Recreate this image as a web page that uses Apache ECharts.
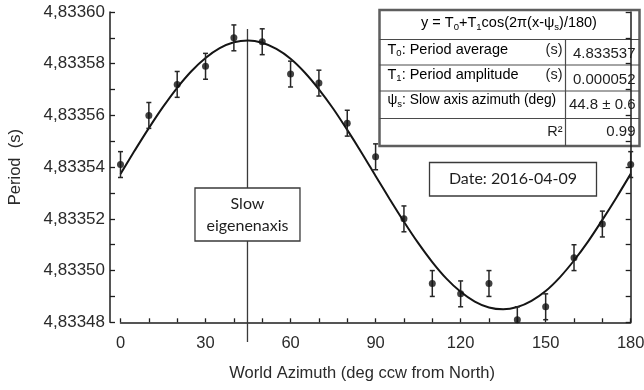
<!DOCTYPE html>
<html>
<head>
<meta charset="utf-8">
<script src="https://cdn.jsdelivr.net/npm/echarts@6/dist/echarts.min.js"></script>
<style>
  html, body { margin: 0; padding: 0; background: #fff; }
  #chart { width: 644px; height: 390px; }
</style>
</head>
<body>
<div id="chart"></div>
<script>
// Measured periods at each world azimuth (deg ccw from North)
const azimuths = [0, 10, 20, 30, 40, 50, 60, 70, 80, 90, 100, 110, 120, 130, 140, 150, 160, 170, 180];
const periods = [4.833541, 4.833560, 4.833572, 4.833579, 4.833590, 4.8335885, 4.833576, 4.8335725, 4.833557,
                 4.833544, 4.833520, 4.833495, 4.833491, 4.833495, 4.833481, 4.833486, 4.833505, 4.833518, 4.833541];
const periodErrors = [0.000005, 0.000005, 0.000005, 0.000005, 0.000005, 0.000005, 0.000005, 0.000005, 0.000005,
                      0.000005, 0.000005, 0.000005, 0.000005, 0.000005, 0.000005, 0.000005, 0.000005, 0.000005, 0.000005];

// Fitted cosine curve, sampled every 5 degrees
const fitAzimuths = [0, 5, 10, 15, 20, 25, 30, 35, 40, 45, 50, 55, 60, 65, 70, 75, 80, 85, 90,
                     95, 100, 105, 110, 115, 120, 125, 130, 135, 140, 145, 150, 155, 160, 165, 170, 175, 180];
const fitPeriods = [4.8335374, 4.8335464, 4.8335551, 4.8335633, 4.8335707, 4.8335771, 4.8335822, 4.8335860,
                    4.8335883, 4.8335890, 4.8335881, 4.8335857, 4.8335819, 4.8335766, 4.8335701, 4.8335627,
                    4.8335544, 4.8335457, 4.8335366, 4.8335276, 4.8335189, 4.8335107, 4.8335033, 4.8334969,
                    4.8334918, 4.8334880, 4.8334857, 4.8334850, 4.8334859, 4.8334883, 4.8334921, 4.8334974,
                    4.8335039, 4.8335113, 4.8335196, 4.8335283, 4.8335374];

// Slow eigenaxis azimuth from the fit
const slowAxisAzimuth = 44.8;

// Axis ticks and labels
const xTickValues = [0, 10, 20, 30, 40, 50, 60, 70, 80, 90, 100, 110, 120, 130, 140, 150, 160, 170, 180];
const xLabelValues = [0, 30, 60, 90, 120, 150, 180];
const yTickValues = [4.83348, 4.83349, 4.83350, 4.83351, 4.83352, 4.83353, 4.83354,
                     4.83355, 4.83356, 4.83357, 4.83358, 4.83359, 4.83360];
const yLabelValues = [4.83348, 4.83350, 4.83352, 4.83354, 4.83356, 4.83358, 4.83360];

// Fit summary table
const tableRowLabels = ['{n|T}{s|0}{n|: Period average}', '{n|T}{s|1}{n|: Period amplitude}',
                        '{c|ψ}{s|s}{c|: Slow axis azimuth (deg)}', ''];
const tableRowUnits = ['(s)', '(s)', '', 'R²'];
const tableRowValues = ['4.833537', '0.000052', '44.8 ± 0.6', '0.99'];
const dateText = 'Date: 2016-04-09';
const slowAxisText = 'Slow\neigenenaxis';

const FONT = "'Liberation Sans', Arial, sans-serif";
const SOFT = "Lato, 'Open Sans', sans-serif";
const INK = '#1e1e1e';

const chart = echarts.init(document.getElementById('chart'), null, { renderer: 'canvas' });

const yFmt = v => v.toFixed(5).replace('.', ',');

function axisY(position, showLabels, extra) {
  return Object.assign({
    type: 'value',
    position: position,
    min: 4.83348,
    max: 4.83360,
    axisLine: { show: true, onZero: false, lineStyle: { color: INK, width: 1.5 } },
    axisTick: { show: true, inside: true, length: 5, customValues: yTickValues,
                lineStyle: { color: INK, width: 1.3 } },
    axisLabel: { show: showLabels, customValues: yLabelValues, formatter: yFmt,
                 fontFamily: FONT, fontSize: 17, color: '#2a2a2a', margin: 5 },
    splitLine: { show: false }
  }, extra || {});
}

// Rows of the fit table, relative to the table origin
const rowTops = [29.5, 55, 81, 108.5];
const rowLabelY = [39.5, 64.5, 90.5, 122];
const rowValueY = [44, 69.5, 95, 122];
const richCells = {
  n: { fontFamily: FONT, fontSize: 14.5, color: INK, lineHeight: 18, verticalAlign: 'middle' },
  c: { fontFamily: FONT, fontSize: 13.8, color: INK, lineHeight: 18, verticalAlign: 'middle' },
  s: { fontFamily: FONT, fontSize: 9.5, color: INK, verticalAlign: 'bottom' }
};
const tableChildren = [
  { type: 'rect', shape: { x: 0, y: 0, width: 260, height: 136 },
    style: { fill: '#fff', stroke: '#5e5e5e', lineWidth: 2.5 } },
  { type: 'line', shape: { x1: 186, y1: 29.5, x2: 186, y2: 136 },
    style: { stroke: '#4a4a4a', lineWidth: 1.2 } },
  { type: 'text', x: 129.5, y: 13,
    style: { text: '{n|y = T}{s|0}{n|+T}{s|1}{n|cos(2π(x-ψ}{s|s}{n|)/180)}',
             align: 'center', verticalAlign: 'middle', rich: richCells } }
];
rowTops.forEach(function (yTop, i) {
  tableChildren.push({ type: 'line', shape: { x1: 0, y1: yTop, x2: 260, y2: yTop },
                       style: { stroke: '#4a4a4a', lineWidth: 1.2 } });
  if (tableRowLabels[i]) {
    tableChildren.push({ type: 'text', x: 8, y: rowLabelY[i],
      style: { text: tableRowLabels[i], align: 'left', verticalAlign: 'middle', rich: richCells } });
  }
  if (tableRowUnits[i]) {
    tableChildren.push({ type: 'text', x: 183, y: rowLabelY[i],
      style: { text: tableRowUnits[i], align: 'right', verticalAlign: 'middle',
               fontFamily: FONT, fontSize: 14.5, fill: INK } });
  }
  tableChildren.push({ type: 'text', x: 256, y: rowValueY[i],
    style: { text: tableRowValues[i], align: 'right', verticalAlign: 'middle',
             fontFamily: FONT, fontSize: 15, fill: INK } });
});

const option = {
  animation: false,
  backgroundColor: '#fff',
  grid: { left: 120.5, right: 13.3, top: 12, bottom: 67.7, containLabel: false, outerBoundsMode: 'none' },
  xAxis: {
    type: 'value',
    min: 0,
    max: 180,
    axisLine: { show: true, onZero: false, lineStyle: { color: INK, width: 1.5 } },
    axisTick: { show: true, inside: true, length: 4, customValues: xTickValues,
                lineStyle: { color: INK, width: 1.3 } },
    axisLabel: { customValues: xLabelValues, fontFamily: FONT, fontSize: 16.5, color: '#2a2a2a', margin: 13 },
    splitLine: { show: false },
    name: 'World Azimuth (deg ccw from North)',
    nameLocation: 'middle',
    nameGap: 43,
    nameTextStyle: { fontFamily: FONT, fontSize: 16.5, color: '#2a2a2a', padding: [0, 27, 0, 0] }
  },
  yAxis: [
    axisY('left', true, {
      offset: 10.5,
      name: 'Period  (s)',
      nameLocation: 'middle',
      nameRotate: 90,
      nameGap: 86,
      nameTextStyle: { fontFamily: FONT, fontSize: 16.5, color: '#2a2a2a' }
    }),
    axisY('right', false)
  ],
  series: [
    {
      // vertical marker of the slow eigenaxis with its caption box
      type: 'custom',
      clip: false,
      z: 1,
      data: [[slowAxisAzimuth]],
      renderItem: function (params, api) {
        const top = api.coord([api.value(0), 4.8335934]);
        const bottom = api.coord([api.value(0), 4.8334724]);
        const cx = top[0];
        return {
          type: 'group',
          children: [
            { type: 'line', shape: { x1: cx, y1: top[1], x2: cx, y2: bottom[1] },
              style: { stroke: '#3a3a3a', lineWidth: 1.3 } },
            { type: 'rect', shape: { x: cx - 52.5, y: 188, width: 105, height: 53 },
              style: { fill: '#fff', stroke: '#3a3a3a', lineWidth: 1.3 } },
            { type: 'text', x: cx, y: 215,
              style: { text: slowAxisText, align: 'center', verticalAlign: 'middle',
                       fontFamily: SOFT, fontSize: 16, lineHeight: 22, fill: INK } }
          ]
        };
      }
    },
    {
      name: 'fit',
      type: 'line',
      data: fitAzimuths.map((a, i) => [a, fitPeriods[i]]),
      smooth: 0.3,
      showSymbol: false,
      z: 2,
      lineStyle: { color: '#151515', width: 2 }
    },
    {
      // error bars, lower ends stop at the axis
      type: 'custom',
      clip: false,
      z: 3,
      data: azimuths.map((a, i) => [a, periods[i], periods[i] - periodErrors[i], periods[i] + periodErrors[i]]),
      encode: { x: 0, y: [1, 2, 3] },
      renderItem: function (params, api) {
        const x = api.value(0);
        const lo = Math.max(api.value(2), 4.83348);
        const hi = api.value(3);
        const pLo = api.coord([x, lo]);
        const pHi = api.coord([x, hi]);
        const c = 2.5;
        const st = { stroke: '#262626', lineWidth: 1.5 };
        const kids = [
          { type: 'line', shape: { x1: pLo[0], y1: pLo[1], x2: pHi[0], y2: pHi[1] }, style: st },
          { type: 'line', shape: { x1: pHi[0] - c, y1: pHi[1], x2: pHi[0] + c, y2: pHi[1] }, style: st }
        ];
        if (api.value(2) > 4.83348) {
          kids.push({ type: 'line', shape: { x1: pLo[0] - c, y1: pLo[1], x2: pLo[0] + c, y2: pLo[1] }, style: st });
        }
        return { type: 'group', children: kids };
      }
    },
    {
      name: 'measured',
      type: 'scatter',
      data: azimuths.map((a, i) => [a, periods[i]]),
      symbol: 'circle',
      symbolSize: 7,
      clip: false,
      z: 4,
      itemStyle: { color: '#111' }
    }
  ],
  graphic: [
    { type: 'group', x: 379.5, y: 10, z: 100, children: tableChildren },
    { type: 'group', x: 429.5, y: 162.5, z: 100, children: [
      { type: 'rect', shape: { x: 0, y: 0, width: 167, height: 33.5 },
        style: { fill: '#fff', stroke: '#3a3a3a', lineWidth: 1.3 } },
      { type: 'text', x: 83.5, y: 16.5,
        style: { text: dateText, align: 'center', verticalAlign: 'middle',
                 fontFamily: SOFT, fontSize: 16, fill: INK } }
    ] }
  ]
};

chart.setOption(option);
</script>
</body>
</html>
